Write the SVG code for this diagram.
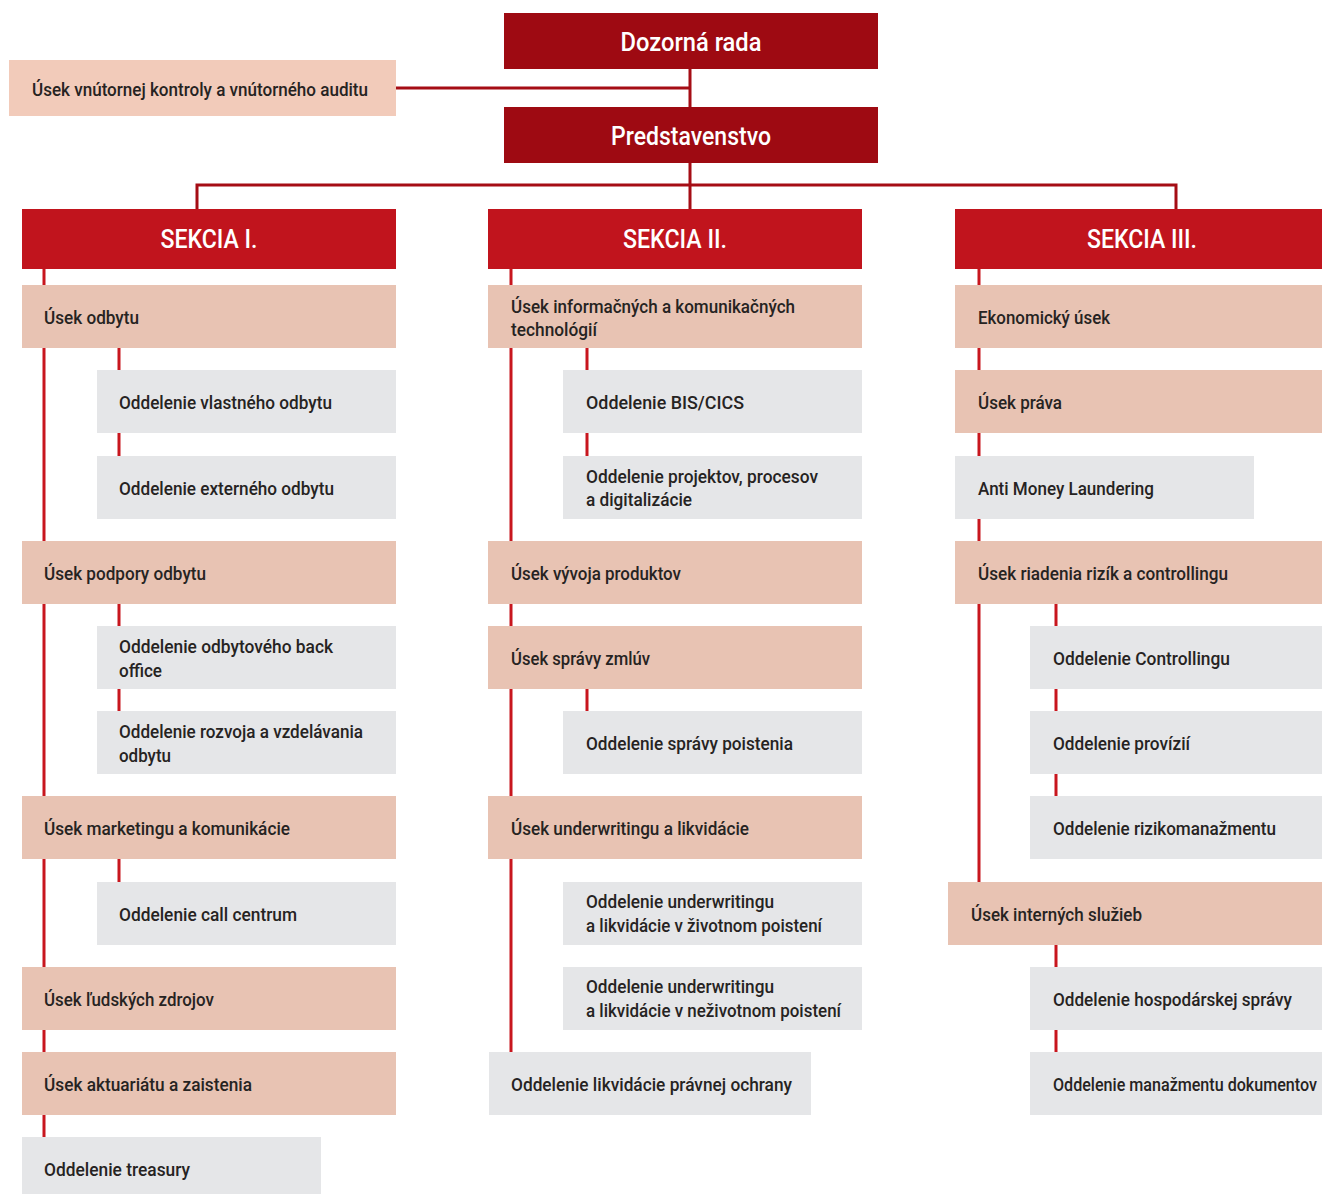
<svg xmlns="http://www.w3.org/2000/svg" width="1322" height="1194" viewBox="0 0 1322 1194">
<style>
.top{fill:#9e0a12}
.sec{fill:#c1141d}
.usek{fill:#e8c3b3}
.odd{fill:#e5e6e8}
.aud{fill:#f2cbba}
.t{font-family:Roboto,"Liberation Sans",sans-serif;font-weight:500;font-size:19px;fill:#262322}
.w{font-family:Roboto,"Liberation Sans",sans-serif;font-weight:500;font-size:26px;fill:#ffffff;text-anchor:middle}
.c1{stroke:#a50d15;stroke-width:3;fill:none}
.c2{stroke:#c8161e;stroke-width:3;fill:none}
</style>
<rect width="1322" height="1194" fill="#ffffff"/>
<g id="connectors">
<path class="c1" d="M690 68V209M396 88H690M197 209V185H1176V209"/>
<path class="c2" d="M44 269V1137M119 348V456M119 604V711M119 859V882M511 269V1052M587 348V456M587 689V711M979 269V882M1056 604V796M1056 945V1052"/>
</g>
<g id="dozorna-rada"><rect class="top" x="504" y="13" width="374" height="56"/><text class="w" x="691" y="51" textLength="141" lengthAdjust="spacingAndGlyphs">Dozorná rada</text></g>
<g id="predstavenstvo"><rect class="top" x="504" y="107" width="374" height="56"/><text class="w" x="691" y="145" textLength="160" lengthAdjust="spacingAndGlyphs">Predstavenstvo</text></g>
<g id="audit"><rect class="aud" x="9" y="60" width="387" height="56"/><text class="t" x="32" y="96" textLength="336" lengthAdjust="spacingAndGlyphs">Úsek vnútornej kontroly a vnútorného auditu</text></g>
<g id="sekcia1"><rect class="sec" x="22" y="209" width="374" height="60"/><text class="w" x="209" y="248" textLength="97" lengthAdjust="spacingAndGlyphs">SEKCIA I.</text></g>
<g id="sekcia2"><rect class="sec" x="488" y="209" width="374" height="60"/><text class="w" x="675" y="248" textLength="104" lengthAdjust="spacingAndGlyphs">SEKCIA II.</text></g>
<g id="sekcia3"><rect class="sec" x="955" y="209" width="367" height="60"/><text class="w" x="1142" y="248" textLength="110" lengthAdjust="spacingAndGlyphs">SEKCIA III.</text></g>

<g id="usek-odbytu"><rect class="usek" x="22" y="285" width="374" height="63"/><text class="t" x="44" y="324" textLength="95" lengthAdjust="spacingAndGlyphs">Úsek odbytu</text></g>
<g id="odd-vlastneho-odbytu"><rect class="odd" x="97" y="370" width="299" height="63"/><text class="t" x="119" y="409" textLength="213" lengthAdjust="spacingAndGlyphs">Oddelenie vlastného odbytu</text></g>
<g id="odd-externeho-odbytu"><rect class="odd" x="97" y="456" width="299" height="63"/><text class="t" x="119" y="495" textLength="215" lengthAdjust="spacingAndGlyphs">Oddelenie externého odbytu</text></g>
<g id="usek-podpory-odbytu"><rect class="usek" x="22" y="541" width="374" height="63"/><text class="t" x="44" y="580" textLength="162" lengthAdjust="spacingAndGlyphs">Úsek podpory odbytu</text></g>
<g id="odd-back-office"><rect class="odd" x="97" y="626" width="299" height="63"/><text class="t" x="119" y="653" textLength="214" lengthAdjust="spacingAndGlyphs">Oddelenie odbytového back</text><text class="t" x="119" y="677" textLength="43" lengthAdjust="spacingAndGlyphs">office</text></g>
<g id="odd-rozvoja"><rect class="odd" x="97" y="711" width="299" height="63"/><text class="t" x="119" y="738" textLength="244" lengthAdjust="spacingAndGlyphs">Oddelenie rozvoja a vzdelávania</text><text class="t" x="119" y="762" textLength="52" lengthAdjust="spacingAndGlyphs">odbytu</text></g>
<g id="usek-marketingu"><rect class="usek" x="22" y="796" width="374" height="63"/><text class="t" x="44" y="835" textLength="246" lengthAdjust="spacingAndGlyphs">Úsek marketingu a komunikácie</text></g>
<g id="odd-call-centrum"><rect class="odd" x="97" y="882" width="299" height="63"/><text class="t" x="119" y="921" textLength="178" lengthAdjust="spacingAndGlyphs">Oddelenie call centrum</text></g>
<g id="usek-ludskych-zdrojov"><rect class="usek" x="22" y="967" width="374" height="63"/><text class="t" x="44" y="1006" textLength="170" lengthAdjust="spacingAndGlyphs">Úsek ľudských zdrojov</text></g>
<g id="usek-aktuariatu"><rect class="usek" x="22" y="1052" width="374" height="63"/><text class="t" x="44" y="1091" textLength="208" lengthAdjust="spacingAndGlyphs">Úsek aktuariátu a zaistenia</text></g>
<g id="odd-treasury"><rect class="odd" x="22" y="1137" width="299" height="63"/><text class="t" x="44" y="1176" textLength="146" lengthAdjust="spacingAndGlyphs">Oddelenie treasury</text></g>

<g id="usek-ikt"><rect class="usek" x="488" y="285" width="374" height="63"/><text class="t" x="511" y="313" textLength="284" lengthAdjust="spacingAndGlyphs">Úsek informačných a komunikačných</text><text class="t" x="511" y="336" textLength="86" lengthAdjust="spacingAndGlyphs">technológií</text></g>
<g id="odd-bis-cics"><rect class="odd" x="563" y="370" width="299" height="63"/><text class="t" x="586" y="409" textLength="158" lengthAdjust="spacingAndGlyphs">Oddelenie BIS/CICS</text></g>
<g id="odd-projektov"><rect class="odd" x="563" y="456" width="299" height="63"/><text class="t" x="586" y="483" textLength="232" lengthAdjust="spacingAndGlyphs">Oddelenie projektov, procesov</text><text class="t" x="586" y="506" textLength="106" lengthAdjust="spacingAndGlyphs">a digitalizácie</text></g>
<g id="usek-vyvoja"><rect class="usek" x="488" y="541" width="374" height="63"/><text class="t" x="511" y="580" textLength="170" lengthAdjust="spacingAndGlyphs">Úsek vývoja produktov</text></g>
<g id="usek-spravy-zmluv"><rect class="usek" x="488" y="626" width="374" height="63"/><text class="t" x="511" y="665" textLength="139" lengthAdjust="spacingAndGlyphs">Úsek správy zmlúv</text></g>
<g id="odd-spravy-poistenia"><rect class="odd" x="563" y="711" width="299" height="63"/><text class="t" x="586" y="750" textLength="207" lengthAdjust="spacingAndGlyphs">Oddelenie správy poistenia</text></g>
<g id="usek-underwritingu"><rect class="usek" x="488" y="796" width="374" height="63"/><text class="t" x="511" y="835" textLength="238" lengthAdjust="spacingAndGlyphs">Úsek underwritingu a likvidácie</text></g>
<g id="odd-uw-zivot"><rect class="odd" x="563" y="882" width="299" height="63"/><text class="t" x="586" y="908" textLength="188" lengthAdjust="spacingAndGlyphs">Oddelenie underwritingu</text><text class="t" x="586" y="932" textLength="236" lengthAdjust="spacingAndGlyphs">a likvidácie v životnom poistení</text></g>
<g id="odd-uw-nezivot"><rect class="odd" x="563" y="967" width="299" height="63"/><text class="t" x="586" y="993" textLength="188" lengthAdjust="spacingAndGlyphs">Oddelenie underwritingu</text><text class="t" x="586" y="1017" textLength="255" lengthAdjust="spacingAndGlyphs">a likvidácie v neživotnom poistení</text></g>
<g id="odd-pravnej-ochrany"><rect class="odd" x="489" y="1052" width="322" height="63"/><text class="t" x="511" y="1091" textLength="281" lengthAdjust="spacingAndGlyphs">Oddelenie likvidácie právnej ochrany</text></g>

<g id="ekonomicky-usek"><rect class="usek" x="955" y="285" width="367" height="63"/><text class="t" x="978" y="324" textLength="132" lengthAdjust="spacingAndGlyphs">Ekonomický úsek</text></g>
<g id="usek-prava"><rect class="usek" x="955" y="370" width="367" height="63"/><text class="t" x="978" y="409" textLength="84" lengthAdjust="spacingAndGlyphs">Úsek práva</text></g>
<g id="aml"><rect class="odd" x="955" y="456" width="299" height="63"/><text class="t" x="978" y="495" textLength="176" lengthAdjust="spacingAndGlyphs">Anti Money Laundering</text></g>
<g id="usek-rizik"><rect class="usek" x="955" y="541" width="367" height="63"/><text class="t" x="978" y="580" textLength="250" lengthAdjust="spacingAndGlyphs">Úsek riadenia rizík a controllingu</text></g>
<g id="odd-controllingu"><rect class="odd" x="1030" y="626" width="292" height="63"/><text class="t" x="1053" y="665" textLength="177" lengthAdjust="spacingAndGlyphs">Oddelenie Controllingu</text></g>
<g id="odd-provizii"><rect class="odd" x="1030" y="711" width="292" height="63"/><text class="t" x="1053" y="750" textLength="137" lengthAdjust="spacingAndGlyphs">Oddelenie provízií</text></g>
<g id="odd-rizikomanazmentu"><rect class="odd" x="1030" y="796" width="292" height="63"/><text class="t" x="1053" y="835" textLength="223" lengthAdjust="spacingAndGlyphs">Oddelenie rizikomanažmentu</text></g>
<g id="usek-internych-sluzieb"><rect class="usek" x="948" y="882" width="374" height="63"/><text class="t" x="971" y="921" textLength="171" lengthAdjust="spacingAndGlyphs">Úsek interných služieb</text></g>
<g id="odd-hospodarskej-spravy"><rect class="odd" x="1030" y="967" width="292" height="63"/><text class="t" x="1053" y="1006" textLength="239" lengthAdjust="spacingAndGlyphs">Oddelenie hospodárskej správy</text></g>
<g id="odd-manazmentu-dokumentov"><rect class="odd" x="1030" y="1052" width="292" height="63"/><text class="t" x="1053" y="1091" textLength="264" lengthAdjust="spacingAndGlyphs">Oddelenie manažmentu dokumentov</text></g>
</svg>
